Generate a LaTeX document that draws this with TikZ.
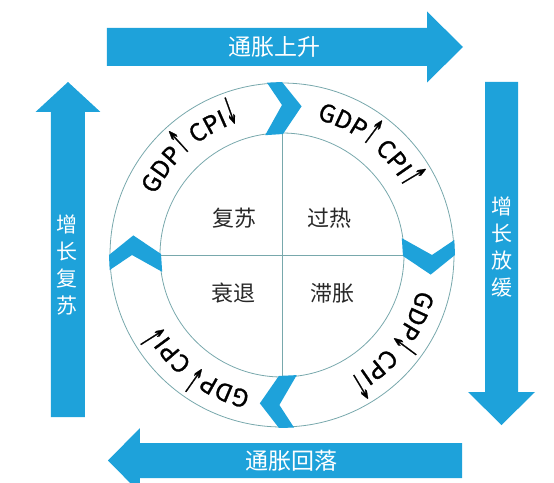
\documentclass[tikz,border=0pt]{standalone}
\usepackage{xcolor}
\usepackage{graphicx}
\usepackage{fontspec}
\usepackage{tikz}
\usetikzlibrary{decorations.text}
\newfontfamily\cjk{Noto Sans CJK SC}
\newfontfamily\cjkheavy[FakeBold=1.2]{Noto Sans CJK SC}
\newfontfamily\arrowglyph[FakeBold=1.2]{DejaVu Sans}
\definecolor{arrowblue}{RGB}{30,162,218}
\definecolor{ringgray}{RGB}{120,168,172}
\definecolor{labelgray}{RGB}{40,40,40}
\newcommand{\ringfont}{\cjkheavy\fontsize{24}{24}\selectfont}
\newcommand{\upmark}{\scalebox{0.6}[1.55]{\arrowglyph ↑}}
\newcommand{\downmark}{\scalebox{0.6}[1.55]{\arrowglyph ↓}}
\newcommand{\ringmark}[1]{\fill[arrowblue] ({#1+5}:173) -- (#1:173) -- ({#1-7.5}:150) -- ({#1-0.5}:121) -- ({#1+8}:121) -- (#1:150) -- cycle;}
\newcommand{\ringtext}[3]{\path[decorate,decoration={text along path,text align=center,text={|\ringfont|GDP{#2} CPI{#3}}}] ({#1+40}:140) arc[start angle={#1+40},end angle={#1-40},radius=140];}

\begin{document}
\begin{tikzpicture}[x=1pt,y=1pt,
  arrowtext/.style={text=white,font=\cjk\fontsize{23}{23}\selectfont},
  columntext/.style={text=white,align=center,font=\cjk\fontsize{21}{27}\selectfont},
  phase/.style={text=labelgray,font=\cjk\fontsize{22}{22}\selectfont}]
\clip (-282,-227) rectangle (272,255);

\fill[arrowblue] (-175,227) -- (145,227) -- (145,243.5) -- (181,208) -- (145,172.5) -- (145,189) -- (-175,189) -- cycle;
\node[arrowtext] (rise) at (-7,208) {通胀上升};

\fill[arrowblue] (203,173) -- (203,-137) -- (186,-137) -- (219.5,-170) -- (253,-137) -- (236,-137) -- (236,173) -- cycle;
\node[columntext] (slow) at (220,8) {增\\长\\放\\缓};

\fill[arrowblue] (180,-188) -- (-142,-188) -- (-142,-173) -- (-174,-205.5) -- (-142,-238) -- (-142,-223) -- (180,-223) -- cycle;
\node[arrowtext] (fall) at (10,-206) {通胀回落};

\fill[arrowblue] (-197,-162) -- (-197,143) -- (-181.5,143) -- (-214,173) -- (-246.5,143) -- (-231,143) -- (-231,-162) -- cycle;
\node[columntext] (revive) at (-215,-10) {增\\长\\复\\苏};

\draw[ringgray,line width=0.8] (0,0) circle[radius=172];
\draw[ringgray,line width=0.8] (0,0) circle[radius=122];
\draw[ringgray,line width=0.8] (0,122) -- (0,-122);
\draw[ringgray,line width=0.8] (-122,0) -- (122,0);

\ringmark{90}
\ringmark{0}
\ringmark{269}
\ringmark{180}

\node[phase] (recovery) at (-47,37) {复苏};
\node[phase] (overheat) at (48,37) {过热};
\node[phase] (recession) at (-48,-38) {衰退};
\node[phase] (stagflation) at (50,-38) {滞胀};

\ringtext{131}{\upmark}{\downmark}
\ringtext{52}{\upmark}{\upmark}
\ringtext{-38}{\downmark}{\upmark}
\ringtext{233.5}{\downmark}{\downmark}
\end{tikzpicture}
\end{document}
